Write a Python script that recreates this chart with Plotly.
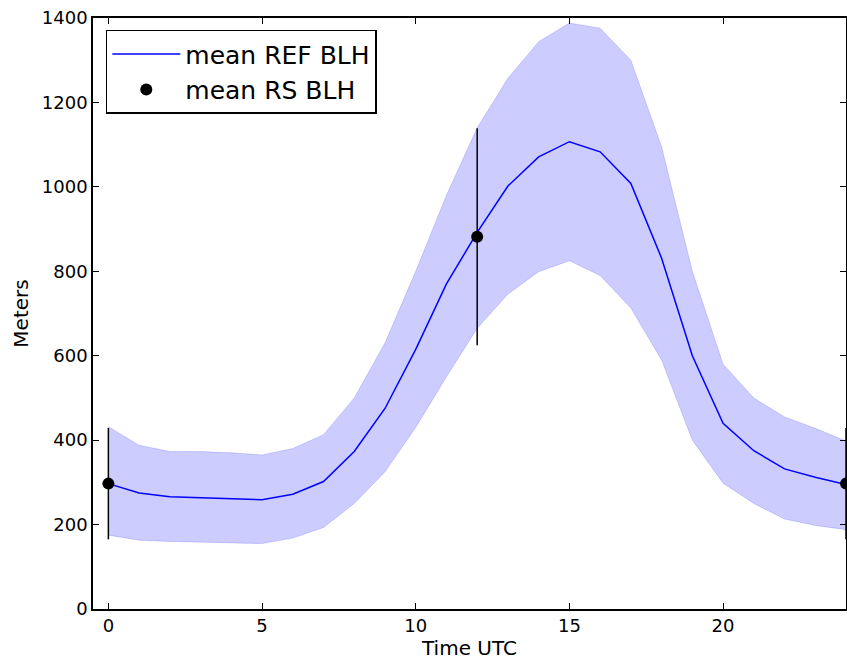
import plotly.graph_objects as go

hours = list(range(25))
mean_ref = [297, 275, 266, 264, 262, 259, 272, 302, 373, 475, 615, 770, 892,
            1002, 1071, 1107, 1083, 1008, 831, 600, 440, 375, 332, 312, 295]
upper_ref = [432, 388, 373, 373, 370, 365, 380, 413, 500, 630, 800, 980, 1140,
             1257, 1344, 1388, 1376, 1300, 1095, 800, 580, 500, 455, 428, 398]
lower_ref = [175, 163, 160, 158, 157, 155, 168, 193, 250, 325, 430, 550, 665,
             746, 799, 825, 790, 713, 590, 400, 298, 250, 213, 198, 188]

rs_hours = [0, 12, 24]
rs_mean = [297, 882, 297]
rs_err = [132, 257, 132]

fig = go.Figure()
fig.add_trace(go.Scatter(x=hours, y=upper_ref, mode="lines",
                         line=dict(color="rgba(0,0,255,0.15)", width=1),
                         showlegend=False, hoverinfo="skip"))
fig.add_trace(go.Scatter(x=hours, y=lower_ref, mode="lines",
                         line=dict(color="rgba(0,0,255,0.15)", width=1),
                         fill="tonexty", fillcolor="rgba(0,0,255,0.2)",
                         showlegend=False, hoverinfo="skip"))
fig.add_trace(go.Scatter(x=hours, y=mean_ref, mode="lines",
                         line=dict(color="#0000ff", width=1.5),
                         name="mean REF BLH"))
fig.add_trace(go.Scatter(x=rs_hours, y=rs_mean, mode="markers",
                         marker=dict(color="black", size=12),
                         error_y=dict(type="data", array=rs_err, color="black",
                                      thickness=1.5, width=0),
                         name="mean RS BLH", cliponaxis=False))

fig.update_layout(
    width=847, height=662,
    margin=dict(l=93, r=1, t=18, b=53),
    paper_bgcolor="white", plot_bgcolor="white",
    font=dict(family="DejaVu Sans", size=18, color="black"),
    legend=dict(x=0.017, y=0.98, xanchor="left", yanchor="top",
                traceorder="normal",
                bordercolor="black", borderwidth=1.5, bgcolor="white",
                font=dict(family="DejaVu Sans", size=25, color="black"),
                itemwidth=68, tracegroupgap=0),
    xaxis=dict(range=[-0.5, 24], tickvals=[0, 5, 10, 15, 20],
               ticks="inside", ticklen=6, tickcolor="black",
               showline=True, linecolor="black", linewidth=1.5, mirror="ticks",
               showgrid=False, zeroline=False, automargin=False,
               ticklabeloverflow="allow",
               title=dict(text="Time UTC", font=dict(family="DejaVu Sans", size=20), standoff=2),
               tickfont=dict(family="DejaVu Sans", size=18)),
    yaxis=dict(range=[0, 1400], tickvals=[0, 200, 400, 600, 800, 1000, 1200, 1400],
               ticks="inside", ticklen=6, tickcolor="black",
               showline=True, linecolor="black", linewidth=1.5, mirror="ticks",
               showgrid=False, zeroline=False, automargin=False,
               ticklabeloverflow="allow",
               title=dict(text="Meters", font=dict(family="DejaVu Sans", size=20), standoff=8),
               tickfont=dict(family="DejaVu Sans", size=18)),
)

fig.write_html("out.html", config={"displayModeBar": False},
               post_script="document.body.style.margin='0';document.body.style.overflow='hidden';")
